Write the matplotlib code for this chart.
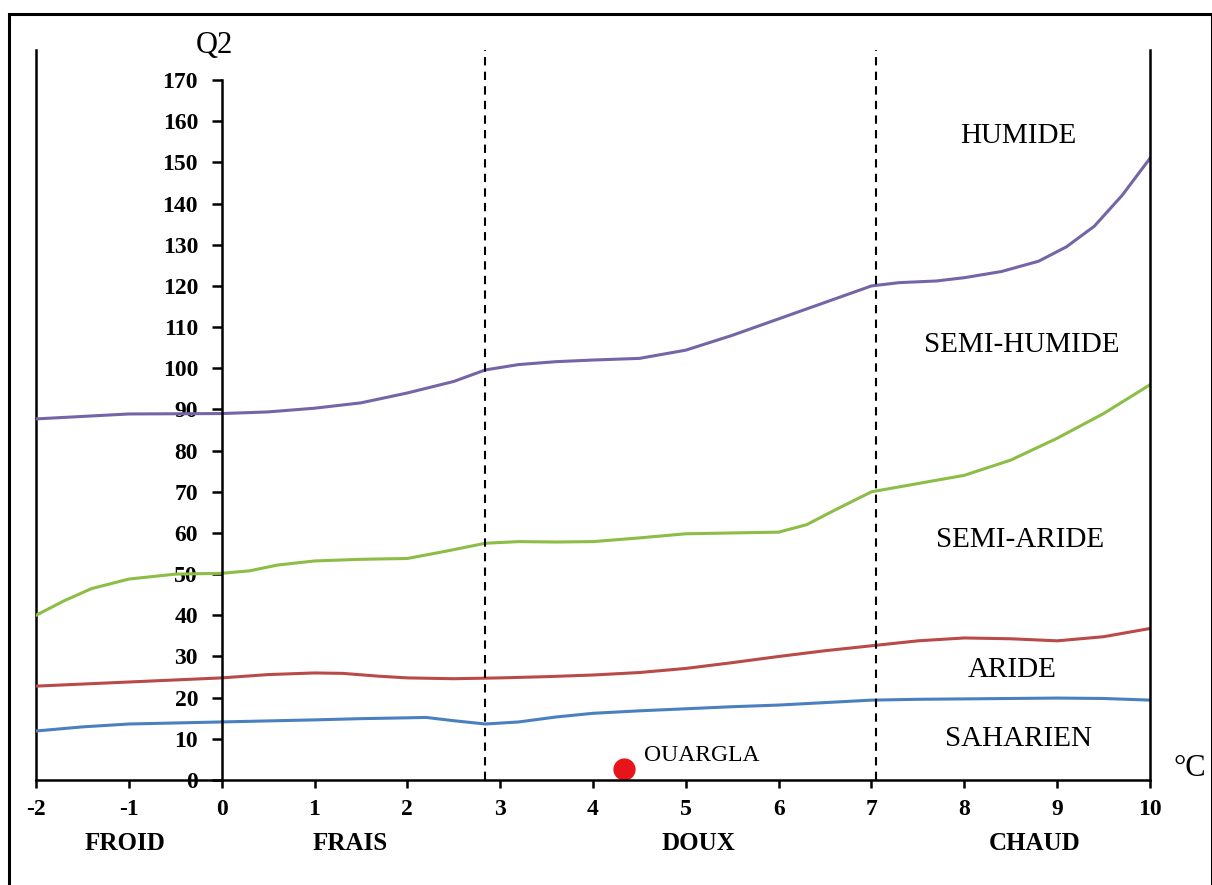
import matplotlib.pyplot as plt
from matplotlib.patches import Rectangle

plt.rcParams['font.family'] = ['Liberation Serif', 'DejaVu Serif']
plt.rcParams['axes.unicode_minus'] = False

# limites climatiques (Q2 en fonction de m en °C)
x_humide = [-2, -1, 0, 0.5, 1, 1.5, 2, 2.5, 2.84, 3.2, 3.6, 4, 4.5, 5, 5.5, 6, 6.5, 7, 7.3, 7.7, 8, 8.4, 8.8, 9.1, 9.4, 9.7, 10]
q_humide = [87.7, 88.9, 89.0, 89.4, 90.3, 91.6, 94.0, 96.8, 99.6, 100.9, 101.6, 102.0, 102.4, 104.4, 108.0, 112.0, 116.0, 120.0, 120.8, 121.2, 122.0, 123.5, 126.0, 129.5, 134.5, 142.0, 151.0]

x_semiaride = [-2, -1.7, -1.4, -1, -0.5, 0, 0.3, 0.6, 1, 1.5, 2, 2.4, 2.84, 3.2, 3.6, 4, 4.5, 5, 5.5, 6, 6.3, 6.6, 7, 7.5, 8, 8.5, 9, 9.5, 10]
q_semiaride = [40.0, 43.5, 46.5, 48.8, 50.0, 50.2, 50.8, 52.2, 53.2, 53.6, 53.8, 55.5, 57.5, 57.9, 57.8, 57.9, 58.8, 59.8, 60.0, 60.2, 62.0, 65.5, 70.0, 72.0, 74.0, 77.7, 83.0, 89.0, 96.0]

x_aride = [-2, -1, 0, 0.5, 1, 1.3, 1.7, 2, 2.5, 3, 3.5, 4, 4.5, 5, 5.5, 6, 6.5, 7, 7.5, 8, 8.5, 9, 9.5, 10]
q_aride = [22.8, 23.8, 24.8, 25.6, 26.0, 25.9, 25.2, 24.8, 24.6, 24.8, 25.1, 25.5, 26.1, 27.1, 28.5, 30.0, 31.4, 32.6, 33.8, 34.5, 34.3, 33.8, 34.8, 36.8]

x_saharien = [-2, -1.5, -1, 0, 1, 1.5, 2, 2.2, 2.5, 2.84, 3.2, 3.6, 4, 4.5, 5, 5.5, 6, 6.5, 7, 7.5, 8, 8.5, 9, 9.5, 10]
q_saharien = [11.9, 12.9, 13.6, 14.1, 14.6, 14.9, 15.1, 15.2, 14.4, 13.6, 14.1, 15.3, 16.2, 16.8, 17.3, 17.8, 18.2, 18.8, 19.4, 19.6, 19.7, 19.8, 19.9, 19.8, 19.4]

courbes = [
    (x_humide, q_humide, '#7565a6'),
    (x_semiaride, q_semiaride, '#8cbd45'),
    (x_aride, q_aride, '#b94a48'),
    (x_saharien, q_saharien, '#4a80c0'),
]

etages = ['HUMIDE', 'SEMI-HUMIDE', 'SEMI-ARIDE', 'ARIDE', 'SAHARIEN']
etages_x = [8.58, 8.62, 8.6, 8.52, 8.58]
etages_q = [156.4, 105.6, 58.3, 26.7, 10.0]

hivers = ['FROID', 'FRAIS', 'DOUX', 'CHAUD']
hivers_px = [125, 350, 698, 1035]

limites_m = [2.84, 7.05]

station = 'OUARGLA'
station_m = 4.33
station_q = 2.7

W, H = 1212, 885
fig = plt.figure(figsize=(W / 100, H / 100), dpi=100)
ax = fig.add_axes([36 / W, (H - 780) / H, 1114 / W, 730 / H])

# cadre extérieur
fig.patches.append(Rectangle((9 / W, -0.01), 1203 / W, (H - 14) / H + 0.01,
                             transform=fig.transFigure, fill=False,
                             edgecolor='black', linewidth=2.2))

ax.set_xlim(-2, 10)
ax.set_ylim(0, 177.3)

# axe Q2 placé en m = 0
ax.spines['left'].set_position(('data', 0))
ax.spines['left'].set_bounds(0, 170)
ax.spines['top'].set_visible(False)
for s in ['left', 'right', 'bottom']:
    ax.spines[s].set_linewidth(1.8)
ax.axvline(-2, color='black', linewidth=1.8, clip_on=False)

ax.set_yticks(range(0, 171, 10))
ax.set_xticks(range(-2, 11))
ax.tick_params(axis='y', direction='out', length=7, width=1.8, pad=10, labelsize=17)
ax.tick_params(axis='x', direction='out', length=6, width=1.8, pad=8, labelsize=17)
for lab in ax.get_xticklabels() + ax.get_yticklabels():
    lab.set_fontweight('bold')

for xs, qs, c in courbes:
    ax.plot(xs, qs, color=c, linewidth=2.2)

for m in limites_m:
    ax.axvline(m, color='black', linestyle=(0, (4, 3)), linewidth=1.5)

for nom, xe, qe in zip(etages, etages_x, etages_q):
    ax.text(xe, qe, nom, ha='center', va='center', fontsize=21)

ax.plot(station_m, station_q, 'o', color='#e8141c', markersize=15)
ax.text(station_m + 0.22, station_q + 3.2, station, ha='left', va='center', fontsize=17)

ax.text(-0.08, 178.5, 'Q2', ha='center', va='center', fontsize=22)
ax.text(10.25, 2.7, '°C', ha='left', va='center', fontsize=22)

for nom, px in zip(hivers, hivers_px):
    fig.text(px / W, 1 - 843 / H, nom, ha='center', va='center',
             fontsize=18, fontweight='bold')

fig.savefig('out.png', dpi=100)
